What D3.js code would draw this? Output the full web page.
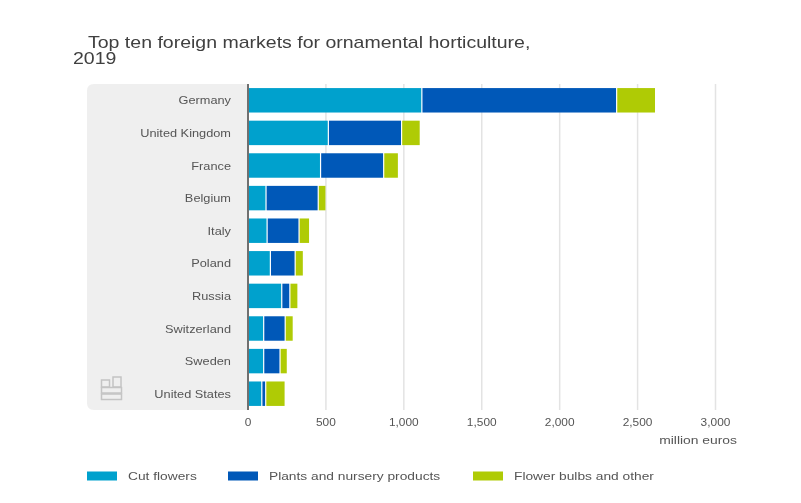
<!DOCTYPE html>
<html>
<head>
<meta charset="utf-8">
<script src="https://cdn.jsdelivr.net/npm/d3@7"></script>
<style>
body { margin: 0; background: #fff; }
svg { filter: blur(0.45px); }
text { font-family: "Liberation Sans", Arial, sans-serif; }
</style>
</head>
<body>
<div id="chart"></div>
<script>
const countries = ["Germany", "United Kingdom", "France", "Belgium", "Italy", "Poland", "Russia", "Switzerland", "Sweden", "United States"];
const cutFlowers = [1115, 515, 465, 115, 122, 143, 216, 100, 100, 88];
const plantsNursery = [1250, 470, 405, 335, 205, 159, 52, 138, 105, 25];
const bulbsOther = [250, 120, 95, 50, 68, 53, 52, 52, 47, 125];
const seriesNames = ["Cut flowers", "Plants and nursery products", "Flower bulbs and other"];
const seriesColors = ["#00a1cd", "#0058b8", "#afcb05"];
const xTicks = [0, 500, 1000, 1500, 2000, 2500, 3000];
const legendX = [87, 228, 473];

const svg = d3.select("#chart").append("svg").attr("width", 801).attr("height", 503);

const rows = countries.map((name, i) => ({name, 0: cutFlowers[i], 1: plantsNursery[i], 2: bulbsOther[i]}));
const stacked = d3.stack().keys([0, 1, 2])(rows);

const x = d3.scaleLinear().domain([0, 3000]).range([248, 715.5]);
const y = d3.scaleBand().domain(countries).range([84, 410]).paddingInner(0.25).paddingOuter(0.125);

// the reference picture is stretched sideways, so the text has to be as well
function stretch(selection, ratio) {
    selection.each(function () {
        d3.select(this)
            .attr("lengthAdjust", "spacingAndGlyphs")
            .attr("textLength", this.getComputedTextLength() * ratio);
    });
}

// title
svg.append("text").attr("x", 88).attr("y", 48).attr("font-size", 16.2).attr("fill", "#404040")
    .text("Top ten foreign markets for ornamental horticulture,").call(stretch, 1.205);
svg.append("text").attr("x", 73).attr("y", 64).attr("font-size", 16.2).attr("fill", "#404040")
    .text("2019").call(stretch, 1.205);

// grey label panel
svg.append("path").attr("fill", "#efefef")
    .attr("d", "M248,84H94Q87,84 87,91V403Q87,410 94,410H248Z");

// gridlines
svg.append("g").selectAll("line").data(xTicks.slice(1)).join("line")
    .attr("x1", d => x(d)).attr("x2", d => x(d))
    .attr("y1", 84).attr("y2", 410)
    .attr("stroke", "#e3e3e3").attr("stroke-width", 1.5);

// stacked bars
svg.append("g").selectAll("g").data(stacked).join("g")
    .attr("fill", (d, i) => seriesColors[i])
    .selectAll("rect").data(d => d).join("rect")
    .attr("x", d => x(d[0]) + 0.7)
    .attr("y", d => y(d.data.name))
    .attr("width", d => Math.max(0, x(d[1]) - x(d[0]) - 1.2))
    .attr("height", y.bandwidth());

// baseline
svg.append("line").attr("x1", x(0)).attr("x2", x(0)).attr("y1", 84).attr("y2", 410)
    .attr("stroke", "#707070").attr("stroke-width", 2);

// country labels
svg.append("g").selectAll("text").data(countries).join("text")
    .attr("x", 231).attr("y", d => y(d) + y.bandwidth() / 2 + 4)
    .attr("text-anchor", "end").attr("font-size", 11).attr("fill", "#555")
    .text(d => d).call(stretch, 1.16);

// x axis labels
svg.append("g").selectAll("text").data(xTicks).join("text")
    .attr("x", d => x(d)).attr("y", 426)
    .attr("text-anchor", "middle").attr("font-size", 11).attr("fill", "#555")
    .text(d => d3.format(",")(d)).call(stretch, 1.08);
svg.append("text").attr("x", 737).attr("y", 444).attr("text-anchor", "end")
    .attr("font-size", 11).attr("fill", "#555").text("million euros").call(stretch, 1.26);

// legend
const legend = svg.append("g").selectAll("g").data(seriesNames).join("g")
    .attr("transform", (d, i) => `translate(${legendX[i]},471.5)`);
legend.append("rect").attr("width", 30).attr("height", 9).attr("fill", (d, i) => seriesColors[i]);
legend.append("text").attr("x", 41).attr("y", 8.5).attr("font-size", 11).attr("fill", "#555")
    .text(d => d).call(stretch, 1.25);

// cbs logo
const logo = svg.append("g").attr("fill", "none").attr("stroke", "#c4c4c4").attr("stroke-width", 1.5);
logo.append("rect").attr("x", 101.5).attr("y", 380).attr("width", 8).attr("height", 7);
logo.append("rect").attr("x", 113).attr("y", 377).attr("width", 8).attr("height", 10);
logo.append("rect").attr("x", 101.5).attr("y", 387.5).attr("width", 20).attr("height", 5.5);
logo.append("rect").attr("x", 101.5).attr("y", 394).attr("width", 20).attr("height", 5.5);
</script>
</body>
</html>
